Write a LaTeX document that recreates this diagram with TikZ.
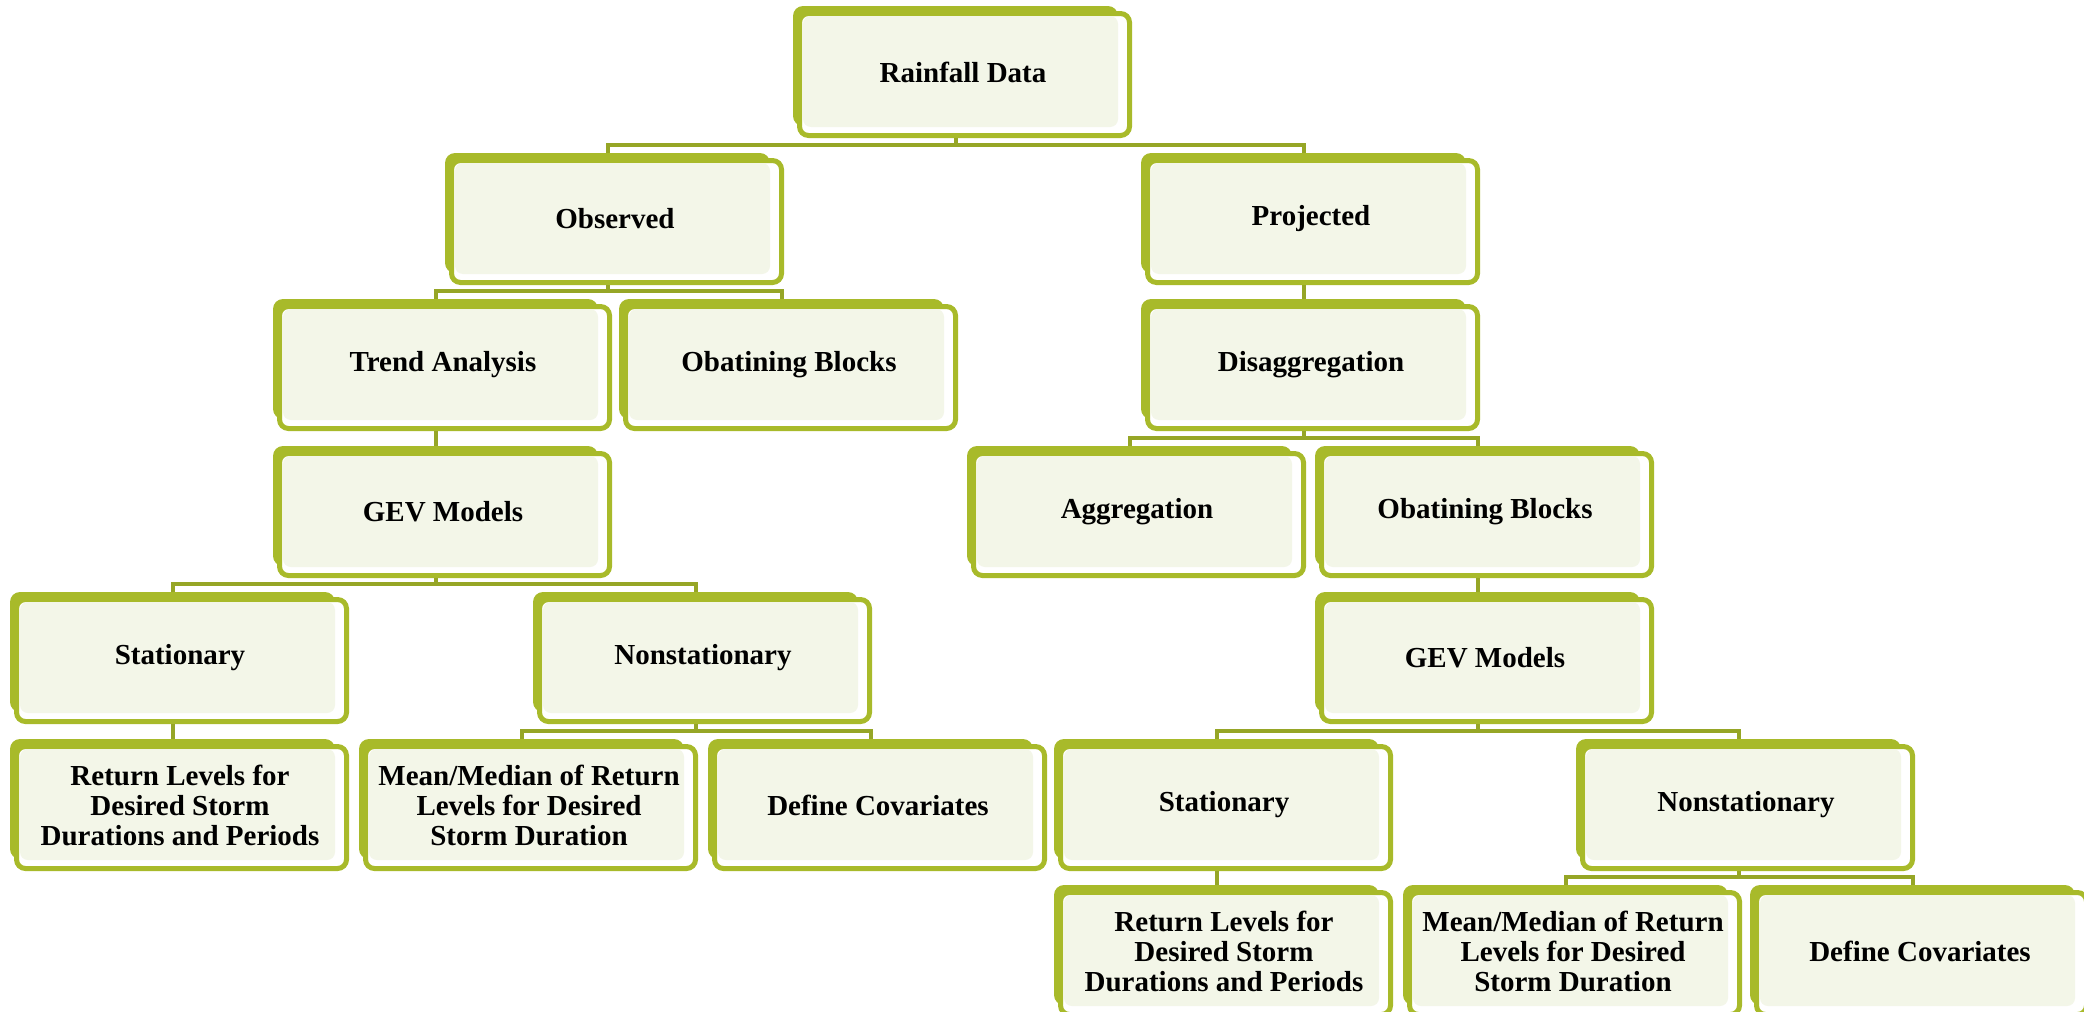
\documentclass[tikz,border=0pt]{standalone}
\usepackage{fontspec}
\setmainfont{Liberation Serif}
\usetikzlibrary{calc}
\definecolor{olivec}{RGB}{168,186,42}
\definecolor{connc}{RGB}{150,166,38}
\definecolor{creamc}{RGB}{243,246,232}
\tikzset{
  frontbox/.style={draw=olivec, line width=2.5pt, fill=white, rounded corners=4.5pt,
    minimum width=165pt, minimum height=61pt, inner sep=0pt},
  txt/.style={align=center, font=\fontsize{14.5}{15}\selectfont\bfseries, inner sep=0pt},
  conn/.style={draw=connc, line width=2pt}
}
\newcommand\obox[4]{%
  \fill[olivec, rounded corners=5pt] (#2,#3) rectangle ++(325,120);
  \node[frontbox] (#1) at ({#2+171.5},{#3+68.5}) {};
  \fill[creamc, rounded corners=4pt] ({#2+10},{#3+10}) rectangle ({#2+325},{#3+121});
  \node[txt] (#1-t) at ({#2+170},{#3+66}) {#4};
  \coordinate (#1-top) at ({#2+162.5},#3);
  \coordinate (#1-bot) at ({#2+162.5},{#3+132});
}
\newcommand\twokids[3]{%
  \draw[conn] (#1-bot) -- ($(#1-bot |- #2-top)+(0,-8)$);
  \draw[conn] (#2-top) -- ++(0,-8) -| (#3-top);
}
\begin{document}
\begin{tikzpicture}[x=0.5pt,y=-0.5pt]
\useasboundingbox (0,0) rectangle (2084,1012);
\obox{rain}{793}{6}{Rainfall Data}
\obox{obs}{445}{153}{Observed}
\obox{proj}{1141}{153}{Projected}
\obox{trend}{273}{299}{Trend Analysis}
\obox{oblk}{619}{299}{Obatining Blocks}
\obox{disag}{1141}{299}{Disaggregation}
\obox{gevl}{273}{446}{GEV Models}
\obox{aggr}{967}{446}{Aggregation}
\obox{obr}{1315}{446}{Obatining Blocks}
\obox{statl}{10}{592}{Stationary}
\obox{nonl}{533}{592}{Nonstationary}
\obox{gevr}{1315}{592}{GEV Models}
\obox{retl}{10}{739}{Return Levels for\\Desired Storm\\Durations and Periods}
\obox{meanl}{359}{739}{Mean/Median of Return\\Levels for Desired\\Storm Duration}
\obox{covl}{708}{739}{Define Covariates}
\obox{statr}{1054}{739}{Stationary}
\obox{nonr}{1576}{739}{Nonstationary}
\obox{retr}{1054}{885}{Return Levels for\\Desired Storm\\Durations and Periods}
\obox{meanr}{1403}{885}{Mean/Median of Return\\Levels for Desired\\Storm Duration}
\obox{covr}{1750}{885}{Define Covariates}
% connectors
\twokids{rain}{obs}{proj}
\twokids{obs}{trend}{oblk}
\draw[conn] (proj-bot) -- (disag-top);
\draw[conn] (trend-bot) -- (gevl-top);
\twokids{disag}{aggr}{obr}
\draw[conn] (obr-bot) -- (gevr-top);
\twokids{gevl}{statl}{nonl}
\twokids{gevr}{statr}{nonr}
\draw[conn] (statl-bot) -- (retl-top);
\twokids{nonl}{meanl}{covl}
\draw[conn] (statr-bot) -- (retr-top);
\twokids{nonr}{meanr}{covr}
\end{tikzpicture}
\end{document}
